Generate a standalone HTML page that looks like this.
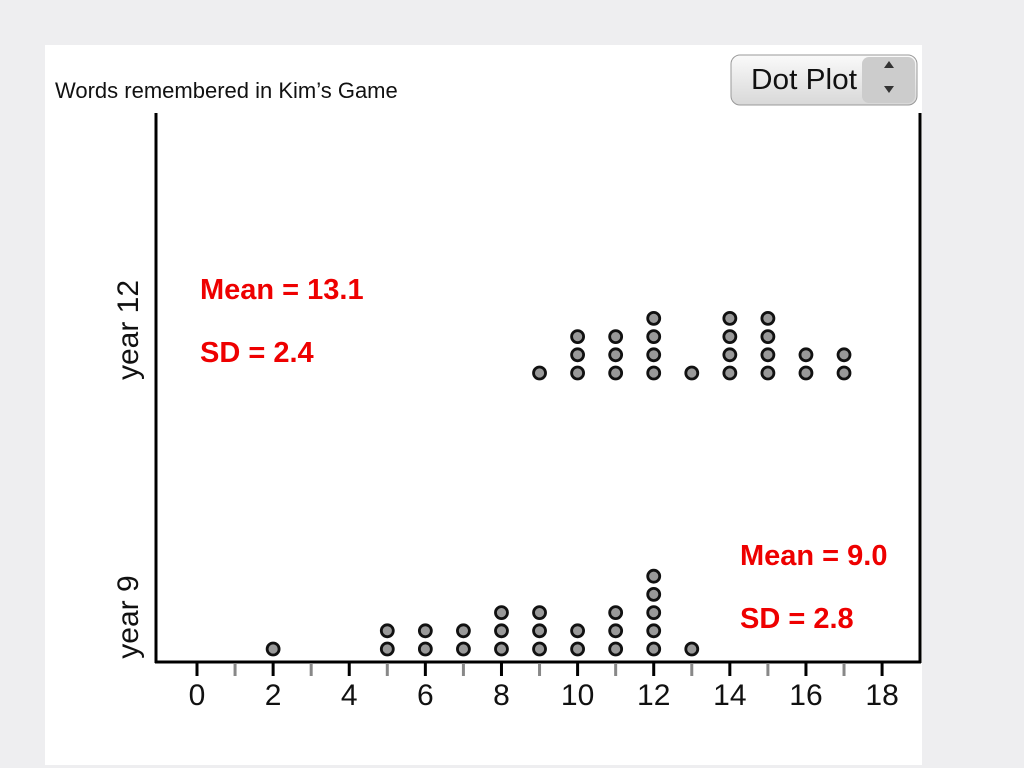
<!DOCTYPE html>
<html><head><meta charset="utf-8"><style>
body{margin:0;width:1024px;height:768px;background:#eeeef0;overflow:hidden;font-family:"Liberation Sans",sans-serif}
#panel{position:absolute;left:45px;top:45px;width:877px;height:720px;background:#fff}
</style></head><body>
<div id="panel"></div>
<svg width="1024" height="768" style="position:absolute;left:0;top:0" id="chart">
<text x="55" y="98" font-size="22" font-family="Liberation Sans" fill="#111">Words remembered in Kim’s Game</text>
<g>
<defs><linearGradient id="g" x1="0" y1="0" x2="0" y2="1"><stop offset="0" stop-color="#fafafa"/><stop offset="1" stop-color="#d8d8d8"/></linearGradient></defs>
<rect x="731" y="55" width="186" height="50" rx="9" fill="url(#g)" stroke="#999"/>
<rect x="862" y="57" width="53" height="46" rx="7" fill="#ccc"/>
<text x="751" y="89" font-size="29" fill="#111" textLength="106" lengthAdjust="spacingAndGlyphs">Dot Plot</text>
<path d="M884 68 l5 -7 l5 7z M884 86 l5 7 l5 -7z" fill="#333"/>
</g>
<line x1="156" y1="113" x2="156" y2="663" stroke="#000" stroke-width="3"/>
<line x1="920" y1="113" x2="920" y2="663" stroke="#000" stroke-width="3"/>
<line x1="155" y1="662" x2="921" y2="662" stroke="#000" stroke-width="3"/>
<g id="ticks"></g><g id="dots"></g>
<text transform="translate(138,330) rotate(-90)" text-anchor="middle" font-size="30" fill="#111">year 12</text>
<text transform="translate(138,617) rotate(-90)" text-anchor="middle" font-size="30" fill="#111">year 9</text>
<g font-family="Liberation Sans" font-weight="bold" font-size="29" fill="#ee0000">
<text x="200" y="299">Mean = 13.1</text>
<text x="200" y="362">SD = 2.4</text>
<text x="740" y="565">Mean = 9.0</text>
<text x="740" y="628">SD = 2.8</text>
</g>
</svg>
<script>
const year12Values=[9,10,11,12,13,14,15,16,17];
const year12Counts=[1,3,3,4,1,4,4,2,2];
const year9Values=[2,5,6,7,8,9,10,11,12,13];
const year9Counts=[1,2,2,2,3,3,2,3,5,1];
const tickValues=[0,1,2,3,4,5,6,7,8,9,10,11,12,13,14,15,16,17,18];
const tickLabels=["0","2","4","6","8","10","12","14","16","18"];
const NS="http://www.w3.org/2000/svg";
const x=v=>197+v*38.06;
const stackY=(base,i)=>base-i*18.2;
const tg=document.getElementById('ticks'),dg=document.getElementById('dots');
tickValues.forEach(v=>{
 const l=document.createElementNS(NS,'line');
 
 
 l.setAttribute('x1',x(v));l.setAttribute('x2',x(v));l.setAttribute('y1',663);l.setAttribute('y2',676);
 l.setAttribute('stroke',v%2?'#888':'#000');l.setAttribute('stroke-width',3);tg.appendChild(l);
});
tickLabels.forEach(s=>{
 const t=document.createElementNS(NS,'text');
 
 
 t.setAttribute('x',x(+s));t.setAttribute('y',705);t.setAttribute('text-anchor','middle');
 t.setAttribute('font-size','30');t.setAttribute('fill','#111');t.textContent=s;tg.appendChild(t);
});
function draw(vals,counts,base,name){
 vals.forEach((v,k)=>{for(let i=0;i<counts[k];i++){
  const c=document.createElementNS(NS,'circle');
  
  
  c.setAttribute('cx',x(v));c.setAttribute('cy',stackY(base,i));c.setAttribute('r',6);
  c.setAttribute('fill','#999');c.setAttribute('stroke','#111');c.setAttribute('stroke-width',2.8);dg.appendChild(c);
 }});
}
draw(year12Values,year12Counts,373,'year-12-dot');
draw(year9Values,year9Counts,649,'year-9-dot');
</script>
</body></html>
